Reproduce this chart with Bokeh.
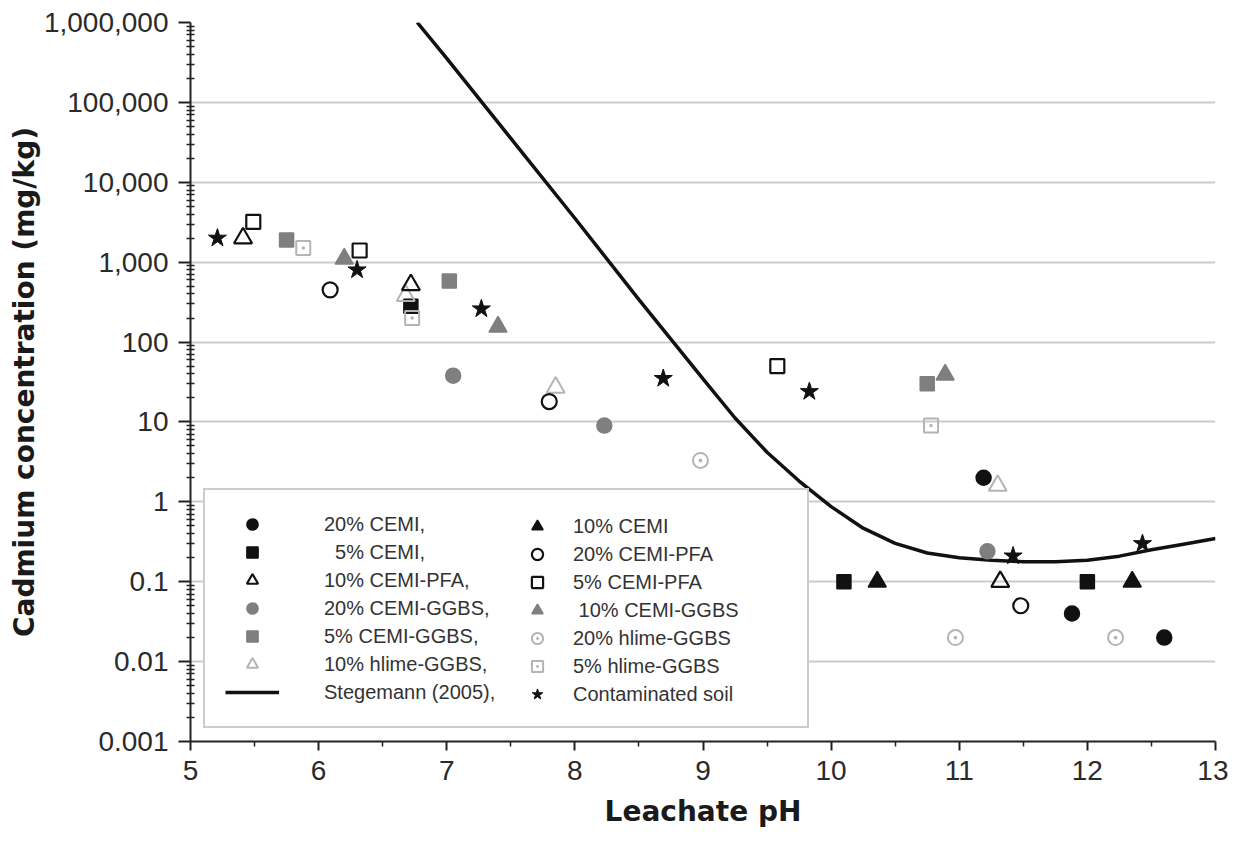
from bokeh.plotting import figure
from bokeh.models import Range1d, FixedTicker, CustomJSTickFormatter, Legend, LegendItem
from bokeh.embed import file_html
from bokeh.resources import INLINE

# ---------------- data ----------------
cemi20_ph = [11.19, 11.88, 12.60]
cemi20_cd = [2.0, 0.04, 0.02]
cemi5_ph = [6.72, 10.10, 12.00]
cemi5_cd = [280, 0.1, 0.1]
pfa10_ph = [5.41, 6.72, 11.32]
pfa10_cd = [2000, 520, 0.1]
ggbs20_ph = [7.05, 8.23, 11.22]
ggbs20_cd = [38, 9, 0.24]
ggbs5_ph = [5.75, 7.02, 10.75]
ggbs5_cd = [1900, 580, 30]
hl10_ph = [6.68, 7.85, 11.30]
hl10_cd = [380, 27, 1.6]
cemi10_ph = [10.36, 12.35]
cemi10_cd = [0.1, 0.1]
pfa20_ph = [6.09, 7.80, 11.48]
pfa20_cd = [450, 18, 0.05]
pfa5_ph = [5.49, 6.32, 9.58]
pfa5_cd = [3200, 1400, 50]
ggbs10_ph = [6.20, 7.40, 10.89]
ggbs10_cd = [1100, 155, 39]
hl20_ph = [8.98, 10.97, 12.22]
hl20_cd = [3.3, 0.02, 0.02]
hl5_ph = [5.88, 6.73, 10.78]
hl5_cd = [1500, 200, 9]
soil_ph = [5.21, 6.30, 7.27, 8.69, 9.83, 11.42, 12.43]
soil_cd = [2000, 800, 260, 35, 24, 0.21, 0.3]
steg_ph = [6.77, 7.0, 7.5, 8.0, 8.5, 9.0, 9.25, 9.5, 9.75, 10.0, 10.25,
           10.5, 10.75, 11.0, 11.25, 11.5, 11.75, 12.0, 12.25, 12.5, 12.75, 13.0]
steg_cd = [1e6, 354800, 35480, 3548, 339, 34.7, 11.2, 4.17, 1.82, 0.871, 0.468,
           0.302, 0.229, 0.200, 0.186, 0.178, 0.178, 0.186, 0.209, 0.251, 0.295, 0.347]

x_ticks = [5, 6, 7, 8, 9, 10, 11, 12, 13]
y_decades = [10.0 ** k for k in range(-3, 7)]

BLACK = "#111111"
GRAY = "#7f7f7f"
LIGHT = "#b4b4b4"
TICK_FONT = "Liberation Sans"
TITLE_FONT = "DejaVu Sans"

p = figure(width=1228, height=836,
           x_range=Range1d(5, 13), y_range=Range1d(1e-3, 1e6),
           y_axis_type="log", output_backend="svg", toolbar_location=None,
           min_border_left=190, min_border_right=13,
           min_border_top=22, min_border_bottom=95)
p.outline_line_color = None
p.background_fill_color = "white"
p.border_fill_color = "white"

# grid
p.xgrid.visible = False
p.ygrid.ticker = FixedTicker(ticks=y_decades[1:-1])
p.ygrid.grid_line_color = "#cccccc"
p.ygrid.grid_line_width = 2

# axes
minor_y = [m * 10.0 ** k for k in range(-3, 6) for m in range(2, 10)]
p.yaxis.ticker = FixedTicker(ticks=y_decades, minor_ticks=minor_y)
p.yaxis.formatter = CustomJSTickFormatter(
    code="return tick.toLocaleString('en-US', {maximumFractionDigits: 3});")
p.xaxis.ticker = FixedTicker(ticks=x_ticks,
                             minor_ticks=[t + 0.5 for t in x_ticks[:-1]])

for ax in (p.xaxis[0], p.yaxis[0]):
    ax.axis_line_color = "#222222"
    ax.axis_line_width = 2
    ax.major_tick_line_color = "#222222"
    ax.major_tick_line_width = 2
    ax.minor_tick_line_color = "#222222"
    ax.minor_tick_line_width = 1.5
    ax.major_label_text_font = TICK_FONT
    ax.major_label_text_font_size = "28px"
    ax.major_label_text_color = "#2a2a2a"
    ax.axis_label_text_font = TITLE_FONT
    ax.axis_label_text_font_style = "bold"
    ax.axis_label_text_font_size = "28px"
    ax.axis_label_text_color = "#1a1a1a"

p.yaxis.major_tick_out = 12
p.yaxis.major_tick_in = 0
p.yaxis.minor_tick_out = 4
p.yaxis.minor_tick_in = 4
p.yaxis.major_label_standoff = 10
p.yaxis.axis_label_standoff = 0
p.yaxis.axis_label = "Cadmium concentration (mg/kg)"

p.xaxis.major_tick_out = 9
p.xaxis.major_tick_in = 0
p.xaxis.minor_tick_out = 5
p.xaxis.minor_tick_in = 0
p.xaxis.major_label_standoff = 10
p.xaxis.axis_label_standoff = 12
p.xaxis.axis_label = "Leachate pH"

# curve
r_steg = p.line(steg_ph, steg_cd, line_color=BLACK, line_width=3.5)

def sc(x, y, marker, size, fill, line, lw=1.5):
    return p.scatter(x, y, marker=marker, size=size, fill_color=fill,
                     line_color=line, line_width=lw)

r_cemi20 = sc(cemi20_ph, cemi20_cd, "circle", 15, BLACK, BLACK)
r_cemi5 = sc(cemi5_ph, cemi5_cd, "square", 14, BLACK, BLACK)
r_cemi10 = sc(cemi10_ph, cemi10_cd, "triangle", 18, BLACK, BLACK)
r_ggbs20 = sc(ggbs20_ph, ggbs20_cd, "circle", 15, GRAY, GRAY)
r_ggbs5 = sc(ggbs5_ph, ggbs5_cd, "square", 14, GRAY, GRAY)
r_ggbs10 = sc(ggbs10_ph, ggbs10_cd, "triangle", 18, GRAY, GRAY)
r_hl10 = sc(hl10_ph, hl10_cd, "triangle", 18, None, LIGHT, 2)
r_hl20 = sc(hl20_ph, hl20_cd, "circle_dot", 15, None, LIGHT, 2)
r_hl5 = sc(hl5_ph, hl5_cd, "square_dot", 14, None, LIGHT, 2)
r_pfa10 = sc(pfa10_ph, pfa10_cd, "triangle", 18, None, BLACK, 2.2)
r_pfa20 = sc(pfa20_ph, pfa20_cd, "circle", 15, None, BLACK, 2.2)
r_pfa5 = sc(pfa5_ph, pfa5_cd, "square", 14, None, BLACK, 2.2)
r_soil = sc(soil_ph, soil_cd, "star", 19, BLACK, BLACK, 1)

col1 = [("20% CEMI,", r_cemi20), ("  5% CEMI,", r_cemi5),
        ("10% CEMI-PFA,", r_pfa10), ("20% CEMI-GGBS,", r_ggbs20),
        ("5% CEMI-GGBS,", r_ggbs5), ("10% hlime-GGBS,", r_hl10),
        ("Stegemann (2005),", r_steg)]
col2 = [("10% CEMI", r_cemi10), ("20% CEMI-PFA", r_pfa20),
        ("5% CEMI-PFA", r_pfa5), (" 10% CEMI-GGBS", r_ggbs10),
        ("20% hlime-GGBS", r_hl20), ("5% hlime-GGBS", r_hl5),
        ("Contaminated soil", r_soil)]

def make_legend(items, loc, glyph_w, standoff, label_w, border):
    lg = Legend(items=[LegendItem(label=t, renderers=[r]) for t, r in items],
                location=loc, orientation="vertical",
                padding=20, spacing=0, margin=0,
                glyph_width=glyph_w, glyph_height=28, label_height=28,
                label_standoff=standoff, label_width=label_w,
                label_text_font=TICK_FONT, label_text_font_size="20px",
                label_text_color="#333333")
    if border:
        lg.border_line_color = "#9a9a9a"
        lg.border_line_width = 2
        lg.background_fill_color = "white"
        lg.background_fill_alpha = 1
    else:
        lg.border_line_color = None
        lg.background_fill_alpha = 0
    return lg

leg1 = make_legend(col1, (13, 13), 54, 45, 463, True)
leg2 = make_legend(col2, (332, 33), 30, 21, 200, False)
p.add_layout(leg1, "center")
p.add_layout(leg2, "center")

open("out.html", "w").write(file_html(p, INLINE))
